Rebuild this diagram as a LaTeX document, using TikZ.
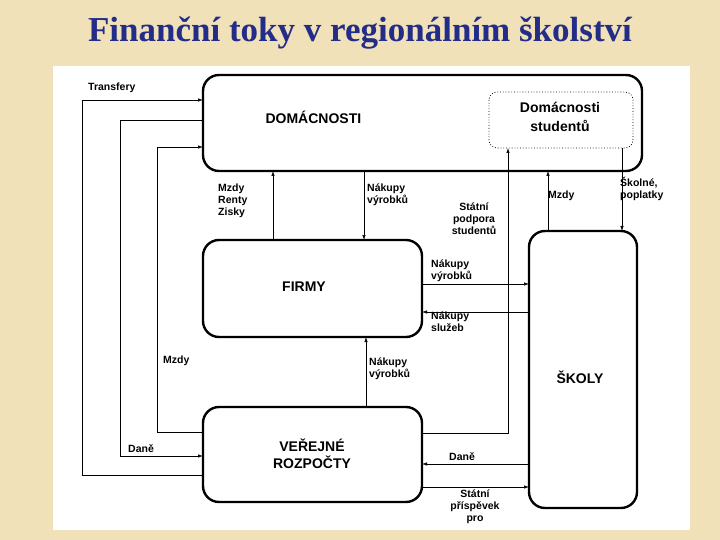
\documentclass[tikz,border=0pt]{standalone}
\usepackage{fontspec}
\setmainfont{Liberation Sans}
\newfontfamily\titlefont{Liberation Serif}
\usetikzlibrary{arrows.meta}
\definecolor{titleblue}{RGB}{35,45,135}
\definecolor{paper}{RGB}{240,225,185}
\begin{document}
\begin{tikzpicture}[x=1pt,y=-1pt,
  box/.style={draw,line width=2.4pt,rounded corners=16pt,fill=white},
  flow/.style={line width=0.7pt,-{Latex[length=5pt,width=3.5pt]}},
  lbl/.style={font=\fontsize{10.5}{12}\selectfont\bfseries,align=left,inner sep=0pt},
  big/.style={font=\fontsize{14}{17}\selectfont\bfseries,align=center}]
\useasboundingbox (0,0) rectangle (720,540);
\fill[paper] (0,0) rectangle (720,540);
\fill[white] (53,66) rectangle (690,530);
\node[font=\titlefont\fontsize{35}{38}\selectfont\bfseries,text=titleblue] (title) at (360,33) {Finanční toky v regionálním školství};
% boxes
\draw[box] (203,75) rectangle (642,171);
\node[big,anchor=west] (domt) at (262,117) {DOMÁCNOSTI};
\draw[dotted,line width=0.8pt,rounded corners=8pt] (489,92) rectangle (633,148);
\node[big] (dst) at (560,117) {Domácnosti\\[2pt]studentů};
\draw[box] (203,240) rectangle (422,337);
\node[big] (firmy) at (304,287) {FIRMY};
\draw[box] (203,407) rectangle (422,502);
\node[big] (vr) at (312,454) {VEŘEJNÉ\\ROZPOČTY};
\draw[box] (529,231) rectangle (637,508);
\node[big] (skoly) at (580,377) {ŠKOLY};
% left loops
\draw[flow] (203,475) -- (82,475) -- (82,100) -- (203,100);
\draw[flow] (203,120) -- (120,120) -- (120,456) -- (203,456);
\draw[flow] (203,432) -- (157,432) -- (157,147) -- (203,147);
% verticals
\draw[flow] (273,240) -- (273,171);
\draw[flow] (364,171) -- (364,240);
\draw[flow] (366,407) -- (366,337);
\draw[flow] (422,433) -- (508,433) -- (508,148);
\draw[flow] (548,231) -- (548,171);
\draw[flow] (622,148) -- (622,231);
% horizontals
\draw[flow] (422,284) -- (529,284);
\draw[flow] (529,312) -- (422,312);
\draw[flow] (529,464) -- (422,464);
\draw[flow] (422,487) -- (529,487);
% labels
\node[lbl,anchor=west] at (88,88) {Transfery};
\node[lbl,anchor=north west] at (218,184) {Mzdy\\Renty\\Zisky};
\node[lbl,anchor=north west] at (367,184) {Nákupy\\výrobků};
\node[lbl,anchor=north,align=center] at (474,203) {Státní\\podpora\\studentů};
\node[lbl,anchor=west] at (548,196) {Mzdy};
\node[lbl,anchor=north west] at (620,177) {Školné,\\poplatky};
\node[lbl,anchor=north west] at (431,260) {Nákupy\\výrobků};
\node[lbl,anchor=north west] at (431,312) {Nákupy\\služeb};
\node[lbl,anchor=west] at (163,361) {Mzdy};
\node[lbl,anchor=north west] at (369,358) {Nákupy\\výrobků};
\node[lbl,anchor=west] at (128,449) {Daně};
\node[lbl,anchor=west] at (449,457) {Daně};
\node[lbl,anchor=north,align=center] at (475,490) {Státní\\příspěvek\\pro};
\end{tikzpicture}
\end{document}
